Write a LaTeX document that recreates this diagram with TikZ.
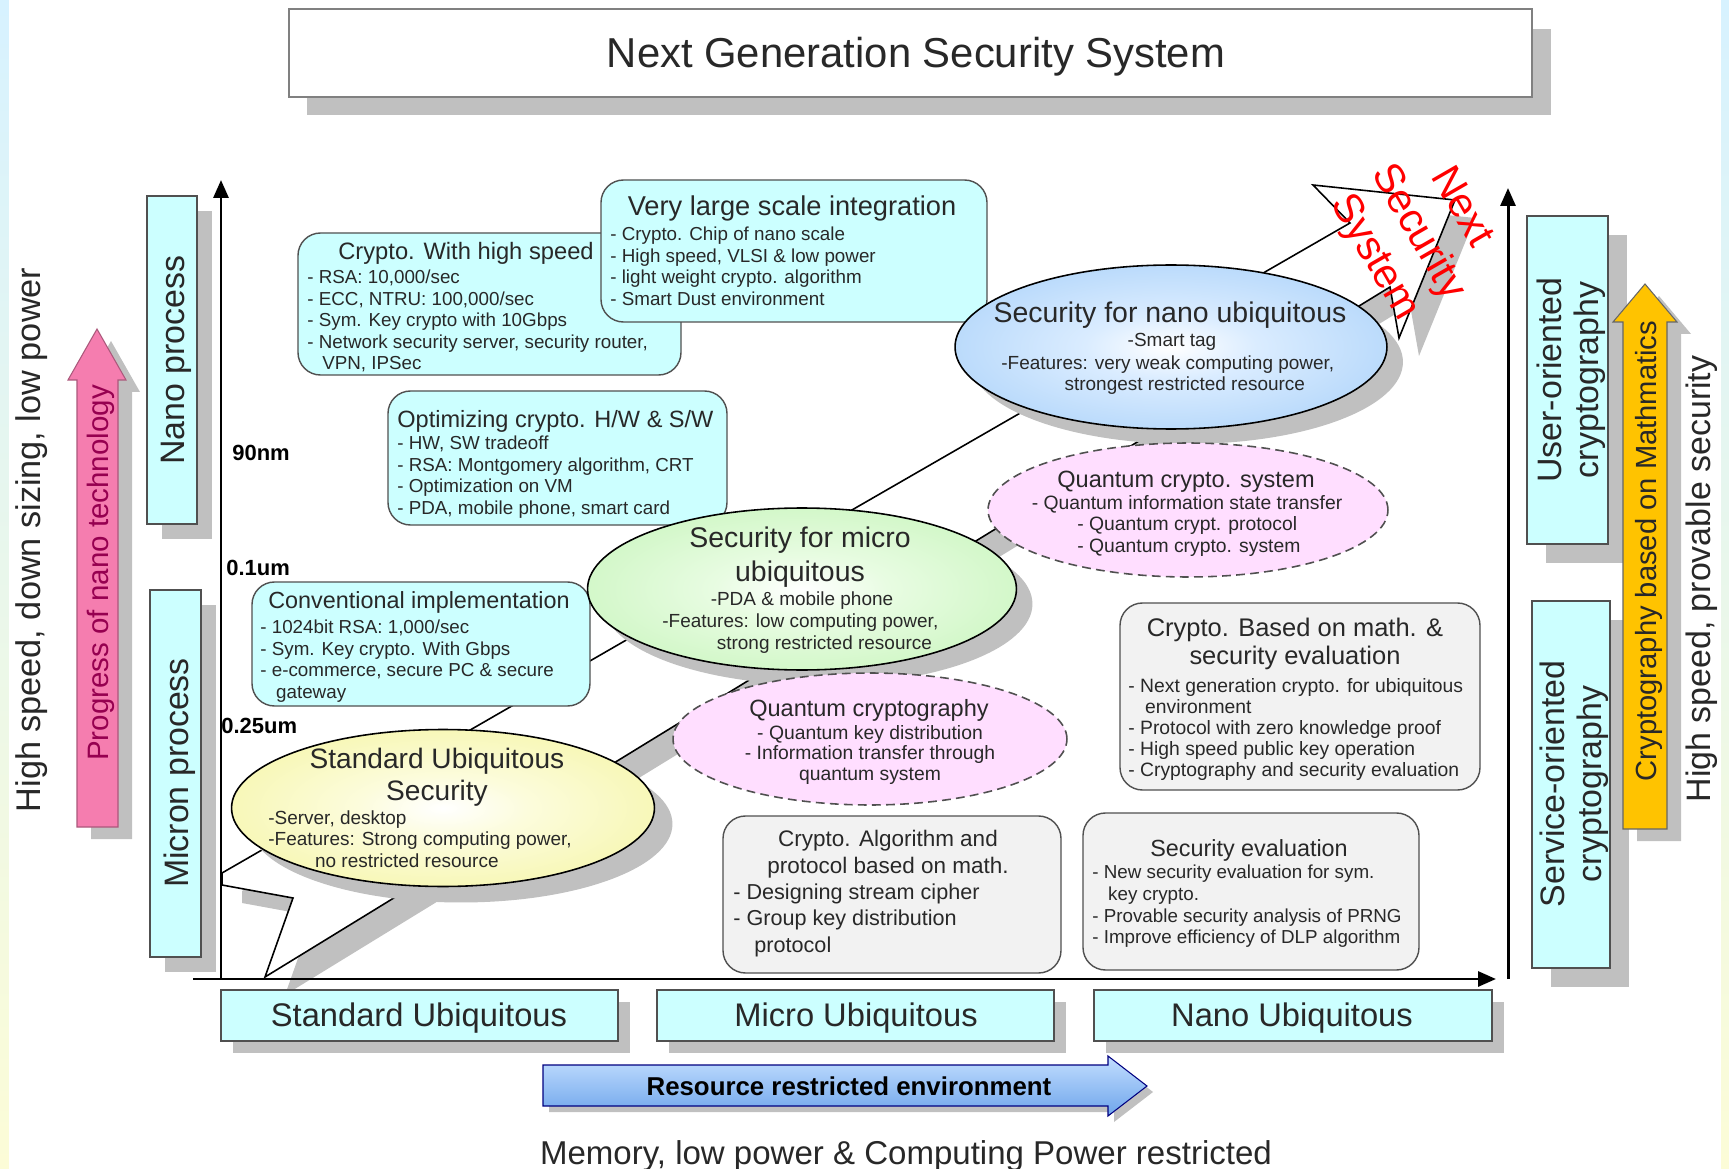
\documentclass[tikz,border=0pt]{standalone}
\usepackage{fontspec}
\setmainfont{Liberation Sans}
\usetikzlibrary{shapes.geometric,fit,arrows.meta}

\definecolor{cyanbox}{RGB}{204,255,255}
\definecolor{grayfill}{RGB}{242,242,242}
\definecolor{shadowgray}{RGB}{192,192,192}
\definecolor{pinkfill}{RGB}{255,222,255}
\definecolor{yellowedge}{RGB}{240,240,125}
\definecolor{yellowmid}{RGB}{252,252,220}
\definecolor{greenedge}{RGB}{176,240,160}
\definecolor{greenmid}{RGB}{232,252,226}
\definecolor{blueedge}{RGB}{135,190,245}
\definecolor{bluemid}{RGB}{218,236,255}
\definecolor{pinkarrow}{RGB}{245,125,175}
\definecolor{goldarrow}{RGB}{255,195,0}
\definecolor{bluearrowtop}{RGB}{195,222,255}
\definecolor{bluearrowbot}{RGB}{110,165,235}
\definecolor{edgegray}{RGB}{80,80,80}
\definecolor{txtgray}{RGB}{40,40,40}
\definecolor{magtext}{RGB}{150,0,80}
\definecolor{bgtop}{RGB}{215,242,255}
\definecolor{bgbot}{RGB}{252,252,215}

\newcommand\myfs[2]{\fontsize{#1}{#2}\selectfont}

\pgfdeclareradialshading{yellowshade}{\pgfpoint{0bp}{0bp}}{color(0bp)=(white); color(10bp)=(yellowmid); color(50bp)=(yellowedge)}
\pgfdeclareradialshading{greenshade}{\pgfpoint{0bp}{0bp}}{color(0bp)=(white); color(10bp)=(greenmid); color(50bp)=(greenedge)}
\pgfdeclareradialshading{blueshade}{\pgfpoint{0bp}{0bp}}{color(0bp)=(white); color(10bp)=(bluemid); color(50bp)=(blueedge)}

\tikzset{
  cbox/.style={draw=edgegray, line width=0.8pt, fill=cyanbox, rounded corners=0.45cm, inner sep=0pt},
  gbox/.style={draw=edgegray, line width=0.8pt, fill=grayfill, rounded corners=0.45cm, inner sep=0pt},
  sqbox/.style={draw=edgegray, line width=0.8pt, fill=cyanbox, inner sep=0pt},
  shadowfill/.style={fill=shadowgray, draw=none},
  ell/.style={ellipse, draw=black, line width=0.9pt, inner sep=0pt},
  ellshadow/.style={ellipse, fill=shadowgray, draw=none, inner sep=0pt},
  qell/.style={ellipse, draw=edgegray, line width=0.9pt, dash pattern=on 5pt off 3pt, fill=pinkfill, inner sep=0pt},
  lbl/.style={inner sep=0pt, text=txtgray},
  bul/.style={lbl, anchor=north west, align=left, font=\myfs{10.7}{12.2}},
  axisline/.style={line width=1.7pt, -{Triangle[length=0.36cm,width=0.3cm]}},
  bigarrow/.style={draw=black, line width=0.9pt, fill=white},
}

\begin{document}
\begin{tikzpicture}[x=0.02cm,y=-0.02cm]
\useasboundingbox (0,0) rectangle (1729,1169);
% background
\fill[top color=bgtop, bottom color=bgbot] (0,0) rectangle (1729,1169);
\fill[white] (9,0) rectangle (1721,1169);

% title
\fill[shadowfill] (307,29) rectangle (1551,115);
\node[draw=gray, line width=0.8pt, fill=white, inner sep=0pt, fit={(289,9) (1532,97)}] (titlebox) {};
\node[lbl, anchor=base, font=\myfs{23.8}{28}] (title) at (916,68) {Next Generation Security System};

% big next-system arrow
\fill[shadowfill, shift={(20,18)}] (222,873) -- (1350,223) -- (1313,185) -- (1455,200) -- (1399,338) -- (1390,287) -- (265,977) -- (293,898) -- (222,885) -- cycle;
\draw[bigarrow] (222,873) -- (1350,223) -- (1313,185) -- (1455,200) -- (1399,338) -- (1390,287) -- (265,977) -- (293,898) -- (222,885) -- cycle;

% axes
\coordinate (O) at (221,979);
\coordinate (ytop) at (221,180);
\coordinate (xstart) at (193,979);
\coordinate (xend) at (1496,979);
\coordinate (rbot) at (1508,979);
\coordinate (rtop) at (1508,188);
\draw[axisline] (O) -- (ytop);
\draw[axisline] (xstart) -- (xend);
\draw[axisline] (rbot) -- (rtop);

% left side
\node[lbl, rotate=90, anchor=base, font=\myfs{19.5}{23}] (hsl) at (40,540) {High speed, down sizing, low power};
\fill[shadowfill, shift={(14,12)}] (77,827) -- (77,380) -- (68,380) -- (97,329) -- (126,380) -- (118,380) -- (118,827) -- cycle;
\draw[fill=pinkarrow, draw=pinkarrow!70!black, line width=0.6pt] (77,827) -- (77,380) -- (68,380) -- (97,329) -- (126,380) -- (118,380) -- (118,827) -- cycle;
\node[inner sep=0pt, text=magtext, rotate=90, anchor=base, font=\myfs{16.8}{20}] (pnt) at (108,573) {Progress of nano technology};

\fill[shadowfill] (162,211) rectangle (212,539);
\node[sqbox, fit={(147,196) (197,524)}] (nanobox) {};
\node[lbl, rotate=90, anchor=base, font=\myfs{19.3}{23}] (nanot) at (184,360) {Nano process};
\fill[shadowfill] (165,605) rectangle (216,972);
\node[sqbox, fit={(150,590) (201,957)}] (micbox) {};
\node[lbl, rotate=90, anchor=base, font=\myfs{19.3}{23}] (mict) at (188,773) {Micron process};

% right side
\fill[shadowfill] (1546,235) rectangle (1627,563);
\node[sqbox, fit={(1527,216) (1608,544)}] (userbox) {};
\node[lbl, rotate=90, align=center, font=\myfs{19.3}{21}] (usert) at (1571,380) {User-oriented\\cryptography};
\fill[shadowfill] (1551,620) rectangle (1629,987);
\node[sqbox, fit={(1532,601) (1610,968)}] (servbox) {};
\node[lbl, rotate=90, align=center, font=\myfs{19.3}{21}] (servt) at (1574,784) {Service-oriented\\cryptography};

\fill[shadowfill, shift={(14,12)}] (1623,829) -- (1623,322) -- (1613,322) -- (1645,284) -- (1677,322) -- (1667,322) -- (1667,829) -- cycle;
\draw[fill=goldarrow, draw=black!60, line width=0.6pt] (1623,829) -- (1623,322) -- (1613,322) -- (1645,284) -- (1677,322) -- (1667,322) -- (1667,829) -- cycle;
\node[lbl, rotate=90, anchor=base, font=\myfs{16.6}{20}] (cbm) at (1656,551) {Cryptography based on Mathmatics};
\node[lbl, rotate=90, anchor=base, font=\myfs{19.3}{23}] (hsp) at (1710,579) {High speed, provable security};

% cyan rounded boxes
\node[cbox, fit={(298,233) (681,375)}] (hs) {};
\node[lbl, anchor=base, font=\myfs{13.5}{16}] (hst) at (466,260) {Crypto. With high speed};
\node[bul] (hsb) at (307,270) {- RSA: 10,000/sec\\- ECC, NTRU: 100,000/sec\\- Sym. Key crypto with 10Gbps\\- Network security server, security router,\\\hspace*{8.5pt}VPN, IPSec};

\node[cbox, fit={(601,180) (987,322)}] (vlsi) {};
\node[lbl, anchor=base, font=\myfs{15.5}{18}] (vlsit) at (792,216) {Very large scale integration};
\node[bul] (vlsib) at (610,227) {- Crypto. Chip of nano scale\\- High speed, VLSI \& low power\\- light weight crypto. algorithm\\- Smart Dust environment};

\node[cbox, fit={(388,391) (727,525)}] (opt) {};
\node[lbl, anchor=base west, font=\myfs{13.4}{16}] (optt) at (397,428) {Optimizing crypto. H/W \& S/W};
\node[bul] (optb) at (397,436) {- HW, SW tradeoff\\- RSA: Montgomery algorithm, CRT\\- Optimization on VM\\- PDA, mobile phone, smart card};

\node[cbox, fit={(252,582) (590,706)}] (conv) {};
\node[lbl, anchor=base, font=\myfs{13.3}{16}] (convt) at (419,608) {Conventional implementation};
\node[bul] (convb) at (260,620) {- 1024bit RSA: 1,000/sec\\- Sym. Key crypto. With Gbps\\- e-commerce, secure PC \& secure\\\hspace*{9pt}gateway};

% ellipses
\node[ellshadow, minimum width=8.46cm, minimum height=3.14cm] (stdsh) at (461,824) {};
\node[ell, shade, shading=yellowshade, minimum width=8.46cm, minimum height=3.14cm] (stdell) at (443,808) {};
\node[lbl, anchor=north, align=center, font=\myfs{16}{18.1}] (stdt) at (437,748) {Standard Ubiquitous\\Security};
\node[lbl, anchor=north west, align=left, font=\myfs{10.8}{12.4}] (stdb) at (268,810) {-Server, desktop\\-Features: Strong computing power,\\\hspace*{26.6pt}no restricted resource};

\node[ellshadow, minimum width=8.58cm, minimum height=3.24cm] (micsh) at (818,604) {};
\node[ell, shade, shading=greenshade, minimum width=8.58cm, minimum height=3.24cm] (micell) at (802,589) {};
\node[lbl, anchor=north, align=center, font=\myfs{16.2}{19.3}] (micelt) at (800,527) {Security for micro\\ubiquitous};
\node[lbl, anchor=base, font=\myfs{10.8}{12.4}] (micb1) at (802,605) {-PDA \& mobile phone};
\node[lbl, anchor=north west, align=left, font=\myfs{10.8}{12.5}] (micb2) at (662,613) {-Features: low computing power,\\\hspace*{31pt}strong restricted resource};

\node[ellshadow, minimum width=8.64cm, minimum height=3.28cm] (nansh) at (1187,362) {};
\node[ell, shade, shading=blueshade, minimum width=8.64cm, minimum height=3.28cm] (nanell) at (1171,347) {};
\node[lbl, anchor=base, font=\myfs{16.2}{19}] (nanelt) at (1170,323) {Security for nano ubiquitous};
\node[lbl, anchor=base, font=\myfs{10.8}{12.4}] (nanb1) at (1172,347) {-Smart tag};
\node[lbl, anchor=north west, align=left, font=\myfs{10.8}{11.9}] (nanb2) at (1001,355) {-Features: very weak computing power,\\\hspace*{36pt}strongest restricted resource};

\node[qell, minimum width=8cm, minimum height=2.68cm] (qcs) at (1188,510) {};
\node[lbl, anchor=base, font=\myfs{13.4}{16}] (qcst) at (1186,487) {Quantum crypto. system};
\node[lbl, anchor=base, font=\myfs{11}{12.5}] (qcsb1) at (1187,509) {- Quantum information state transfer};
\node[lbl, anchor=north west, align=left, font=\myfs{11}{12.5}] (qcsb2) at (1077,516) {- Quantum crypt. protocol\\- Quantum crypto. system};

\node[qell, minimum width=7.88cm, minimum height=2.64cm] (qc) at (870,739) {};
\node[lbl, anchor=base, font=\myfs{13.4}{16}] (qct) at (869,716) {Quantum cryptography};
\node[lbl, anchor=north, align=center, font=\myfs{11}{11.6}] (qcb) at (870,725) {- Quantum key distribution\\- Information transfer through\\quantum system};

% gray boxes
\node[gbox, fit={(1120,603) (1480,790)}] (mathbox) {};
\node[lbl, anchor=north, align=center, font=\myfs{14.5}{15.9}] (matht) at (1295,618) {Crypto. Based on math. \&\\security evaluation};
\node[lbl, anchor=north west, align=left, font=\myfs{11}{12}] (mathb) at (1128,678) {- Next generation crypto. for ubiquitous\\\hspace*{9.6pt}environment\\- Protocol with zero knowledge proof\\- High speed public key operation\\- Cryptography and security evaluation};

\node[gbox, fit={(723,816) (1061,973)}] (algbox) {};
\node[lbl, anchor=north, align=center, font=\myfs{12.8}{15.3}] (algt) at (888,830) {Crypto. Algorithm and\\protocol based on math.};
\node[lbl, anchor=north west, align=left, font=\myfs{12.3}{15.3}] (algb) at (733,883) {- Designing stream cipher\\- Group key distribution\\\hspace*{12pt}protocol};

\node[gbox, fit={(1083,813) (1419,970)}] (evalbox) {};
\node[lbl, anchor=base, font=\myfs{13.3}{16}] (evalt) at (1249,856) {Security evaluation};
\node[lbl, anchor=north west, align=left, font=\myfs{10.7}{12.3}] (evalb) at (1092,865) {- New security evaluation for sym.\\\hspace*{9pt}key crypto.\\- Provable security analysis of PRNG\\- Improve efficiency of DLP algorithm};

% bottom boxes
\fill[shadowfill] (233,1002) rectangle (630,1053);
\fill[shadowfill] (669,1002) rectangle (1066,1053);
\fill[shadowfill] (1106,1002) rectangle (1504,1053);
\node[sqbox, fit={(221,990) (618,1041)}] (stdbox) {};
\node[sqbox, fit={(657,990) (1054,1041)}] (micbbox) {};
\node[sqbox, fit={(1094,990) (1492,1041)}] (nanbbox) {};
\node[lbl, anchor=base, font=\myfs{18.6}{22}] (stdbt) at (419,1026) {Standard Ubiquitous};
\node[lbl, anchor=base, font=\myfs{18.6}{22}] (micbt) at (856,1026) {Micro Ubiquitous};
\node[lbl, anchor=base, font=\myfs{18.6}{22}] (nanbt) at (1292,1026) {Nano Ubiquitous};

% resource arrow
\fill[shadowfill, shift={(6,6)}] (543,1065) -- (1108,1065) -- (1108,1056) -- (1147,1086) -- (1108,1116) -- (1108,1106) -- (543,1106) -- cycle;
\draw[top color=bluearrowtop, bottom color=bluearrowbot, draw=blue!50!black, line width=0.6pt] (543,1065) -- (1108,1065) -- (1108,1056) -- (1147,1086) -- (1108,1116) -- (1108,1106) -- (543,1106) -- cycle;
\node[inner sep=0pt, anchor=base, font=\bfseries\myfs{14.7}{17}] (rre) at (849,1095) {Resource restricted environment};
\node[lbl, anchor=base, font=\myfs{18.8}{22}] (mem) at (906,1164) {Memory, low power \& Computing Power restricted};

% tick labels
\node[inner sep=0pt, anchor=base west, font=\bfseries\myfs{12.5}{14}] (t90) at (232,460) {90nm};
\node[inner sep=0pt, anchor=base west, font=\bfseries\myfs{12.5}{14}] (t01) at (226,575) {0.1um};
\node[inner sep=0pt, anchor=base west, font=\bfseries\myfs{12.5}{14}] (t025) at (221,733) {0.25um};

% red label
\node[inner sep=0pt, text=red, rotate=-60, align=center, font=\myfs{23.5}{28.5}] (nss) at (1417,233) {Next\\Security\\System};
\end{tikzpicture}
\end{document}
